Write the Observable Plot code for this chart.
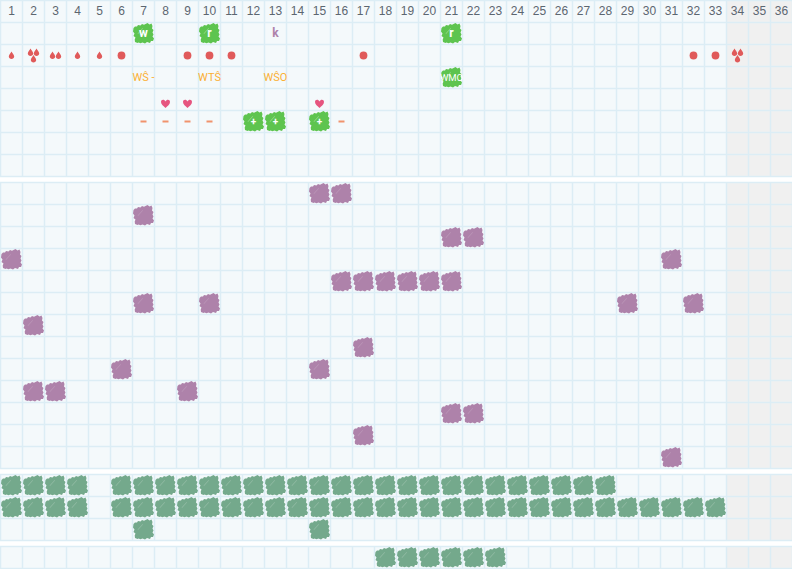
<!DOCTYPE html>
<html><head><meta charset="utf-8">
<script src="https://cdn.jsdelivr.net/npm/d3@7"></script>
<script src="https://cdn.jsdelivr.net/npm/@observablehq/plot@0.6"></script>
<style>html,body{margin:0;padding:0;background:#fff}svg{display:block}</style>
</head><body><div id="chart"></div>
<script>
const columns = d3.range(1, 37);
const weekendColumns = [34, 35, 36];
const sectionRows = [8, 13, 3, 1];
const gapRows = 6 / 22;

// [section, row, column]
const purpleCells = [
 [1,0,15],[1,0,16],[1,1,7],[1,2,21],[1,2,22],[1,3,1],[1,3,31],
 [1,4,16],[1,4,17],[1,4,18],[1,4,19],[1,4,20],[1,4,21],
 [1,5,7],[1,5,10],[1,5,29],[1,5,32],[1,6,2],[1,7,17],[1,8,6],[1,8,15],
 [1,9,2],[1,9,3],[1,9,9],[1,10,21],[1,10,22],[1,11,17],[1,12,31]];
const tealRow0 = [1,2,3,4,6,7,8,9,10,11,12,13,14,15,16,17,18,19,20,21,22,23,24,25,26,27,28];
const tealRow1 = [1,2,3,4,6,7,8,9,10,11,12,13,14,15,16,17,18,19,20,21,22,23,24,25,26,27,28,29,30,31,32,33];
const tealRow2 = [7,15];
const tealRow3 = [18,19,20,21,22,23];
const greenCells = [[0,1,7],[0,1,10],[0,1,21],[0,3,21],[0,5,12],[0,5,13],[0,5,15]];
const greenLabels = [[0,1,7,"w"],[0,1,10,"r"],[0,1,21,"r"]];
const greenPlus = [[0,5,12,"+"],[0,5,13,"+"],[0,5,15,"+"]];
const greenWide = [[0,3,21,"WMO"]];
const oneDrop = [1,4,5], twoDrops = [3], threeDrops = [2,34];
const redDots = [6,9,10,11,17,32,33];
const orangeLabels = [[7,"WŜ -"],[10,"WTŜ"],[13,"WŜO"]];
const hearts = [8,9,15];
const dashes = [7,8,9,10,16];

const rowTop = (s, r) => d3.sum(sectionRows.slice(0, s)) + s * gapRows + r;
const P = (s, r, c) => ({x: c - 0.5, y: rowTop(s, r) + 0.5});

function polygon(ctx, pts, k){ pts.forEach((p,i)=> i? ctx.lineTo(p[0]*k,p[1]*k):ctx.moveTo(p[0]*k,p[1]*k)); ctx.closePath(); }
const blobPts = [[-10,-5.5],[-8.5,-7],[-6.5,-7],[-5.5,-8.5],[-3,-8],[-1.5,-9.5],[0.5,-8.8],[2.5,-9.8],[4,-10.5],[6,-9],[8,-10],[9,-7.5],[8.5,-5],[10,-3.5],[9,-1],[10,1],[9,3],[10.5,5],[9.5,7.5],[7.5,7.5],[6.5,9.5],[3.5,8.5],[1.5,10],[-1,9],[-3,9.8],[-5,9],[-6,9.5],[-8.5,8.5],[-8.8,6],[-8,4],[-10,2.5],[-9,0],[-10.5,-2]];
const streakPts = [[-6,0],[-1,-5.5],[-0.4,-5],[-5.4,0.6]];
const blob = {draw(ctx,size){ polygon(ctx, blobPts, Math.sqrt(size)/20); }};
const streak = {draw(ctx,size){ polygon(ctx, streakPts, Math.sqrt(size)/20); }};
function dropAt(ctx,cx,cy,k){
  ctx.moveTo(cx, cy-4*k);
  ctx.bezierCurveTo(cx+0.8*k,cy-2.3*k,cx+2.7*k,cy-0.9*k,cx+2.7*k,cy+1.1*k);
  ctx.bezierCurveTo(cx+2.7*k,cy+2.7*k,cx+1.4*k,cy+3.4*k,cx,cy+3.4*k);
  ctx.bezierCurveTo(cx-1.4*k,cy+3.4*k,cx-2.7*k,cy+2.7*k,cx-2.7*k,cy+1.1*k);
  ctx.bezierCurveTo(cx-2.7*k,cy-0.9*k,cx-0.8*k,cy-2.3*k,cx,cy-4*k);
  ctx.closePath();
}
const drop1 = {draw(ctx,size){ const k=Math.sqrt(size)/20; dropAt(ctx,0,0,k); }};
const drop2 = {draw(ctx,size){ const k=Math.sqrt(size)/20; dropAt(ctx,-3,0,k); dropAt(ctx,3,0,k); }};
const drop3 = {draw(ctx,size){ const k=Math.sqrt(size)/20; dropAt(ctx,-3,-3,k); dropAt(ctx,3,-3,k); dropAt(ctx,0,3.5,k); }};
const heart = {draw(ctx,size){ const k=Math.sqrt(size)/20;
  ctx.moveTo(0,4.5*k);
  ctx.bezierCurveTo(-2*k,2.5*k,-4.5*k,1*k,-4.5*k,-1.5*k);
  ctx.bezierCurveTo(-4.5*k,-4.5*k,-1*k,-4.5*k,0,-2*k);
  ctx.bezierCurveTo(1*k,-4.5*k,4.5*k,-4.5*k,4.5*k,-1.5*k);
  ctx.bezierCurveTo(4.5*k,1*k,2*k,2.5*k,0,4.5*k);
  ctx.closePath(); }};
const dash = {draw(ctx,size){ const k=Math.sqrt(size)/20; ctx.rect(-3*k,-1*k,6*k,2*k); }};
const dotOpts = (sym, fill, extra={}) => ({x:"x", y:"y", symbol:sym, r:Math.sqrt(400/Math.PI), fill, stroke:"none", ...extra});

const sections = sectionRows.map((n,s)=>({s, n, y1: rowTop(s,0), y2: rowTop(s,n)}));
const bgCells = sections.flatMap(sec => columns.map(c => ({c, y1:sec.y1, y2:sec.y2, fill: weekendColumns.includes(c) ? "#f0f0f0" : "#f4f9fb"})));
const gridH = sections.flatMap(sec => d3.range(sec.n+1).map(i => ({y: sec.y1+i, x1:0, x2:36})));
const gridV = sections.flatMap(sec => d3.range(37).map(i => ({x:i, y1:sec.y1, y2:sec.y2})));
const teal = [...tealRow0.map(c=>P(2,0,c)),...tealRow1.map(c=>P(2,1,c)),...tealRow2.map(c=>P(2,2,c)),...tealRow3.map(c=>P(3,0,c))];
const purple = purpleCells.map(d=>P(...d));
const green = greenCells.map(d=>P(...d));
const lineColor = "#dcedf5";
const labelData = a => a.map(d=>({...P(d[0],d[1],d[2]),t:d[3]}));

const plot = Plot.plot({
  width:792, height:569, margin:0,
  style:{background:"#fff", fontFamily:"'Liberation Sans', sans-serif"},
  x:{domain:[0,36], range:[0,792], axis:null},
  y:{domain:[0,25+3*gapRows], range:[0,568], axis:null},
  marks:[
    Plot.rect(bgCells,{x1:d=>d.c-1,x2:"c",y1:"y1",y2:"y2",fill:"fill"}),
    Plot.ruleY(gridH,{y:"y",x1:"x1",x2:"x2",stroke:lineColor,strokeWidth:1.5}),
    Plot.ruleX(gridV,{x:"x",y1:"y1",y2:"y2",stroke:lineColor,strokeWidth:1.5}),
    Plot.text(columns,{x:d=>d-0.5,y:()=>0.5,text:d=>String(d),fill:"#5c6670",fontSize:12}),
    Plot.dot(green,dotOpts(blob,"#5ec44f")),
    Plot.dot(green,dotOpts(streak,"#fff",{fillOpacity:0.3})),
    Plot.text(labelData(greenLabels),{x:"x",y:"y",text:"t",fill:"#fff",fontSize:12,fontWeight:"bold",fontFamily:"Roboto"}),
    Plot.text(labelData(greenPlus),{x:"x",y:"y",text:"t",fill:"#fff",fontSize:10,fontWeight:"bold",fontFamily:"Roboto"}),
    Plot.text(labelData(greenWide),{x:"x",y:"y",text:"t",fill:"#fff",fontSize:9.5,fontFamily:"Roboto"}),
    Plot.text([P(0,1,13)],{x:"x",y:"y",text:()=>"k",fill:"#ae82aa",fontSize:12,fontWeight:"bold",fontFamily:"Roboto"}),
    Plot.dot(oneDrop.map(c=>P(0,2,c)),dotOpts(drop1,"#e05a5a")),
    Plot.dot(twoDrops.map(c=>P(0,2,c)),dotOpts(drop2,"#e05a5a")),
    Plot.dot(threeDrops.map(c=>P(0,2,c)),dotOpts(drop3,"#e05a5a")),
    Plot.dot(redDots.map(c=>P(0,2,c)),{x:"x",y:"y",r:3.9,fill:"#e05a5a"}),
    Plot.text(orangeLabels.map(d=>({...P(0,3,d[0]),t:d[1]})),{x:"x",y:"y",text:"t",fill:"#fbb034",fontSize:11,fontFamily:"Roboto"}),
    Plot.dot(hearts.map(c=>P(0,4,c)),dotOpts(heart,"#e6557f",{dy:4})),
    Plot.dot(dashes.map(c=>P(0,5,c)),dotOpts(dash,"#f1936c")),
    Plot.dot(purple,dotOpts(blob,"#ae82aa")),
    Plot.dot(purple,dotOpts(streak,"#fff",{fillOpacity:0.15})),
    Plot.dot(teal,dotOpts(blob,"#74a98c")),
    Plot.dot(teal,dotOpts(streak,"#fff",{fillOpacity:0.2}))
  ]
});
document.getElementById("chart").append(plot);
</script></body></html>
